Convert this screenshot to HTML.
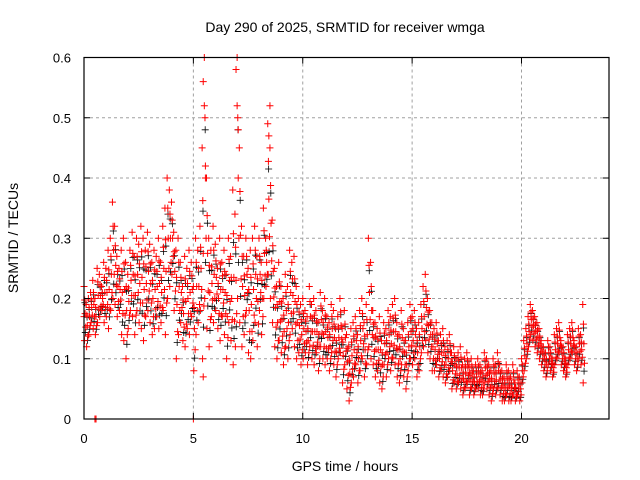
<!DOCTYPE html>
<html><head><meta charset="utf-8"><style>
body{margin:0;background:#fff}
svg{display:block;font-family:"Liberation Sans",Arial,sans-serif}
</style></head><body>
<svg id="chart" width="640" height="480" xmlns="http://www.w3.org/2000/svg">
<text x="345" y="32" font-size="14" text-anchor="middle">Day 290 of 2025, SRMTID for receiver wmga</text>
<text x="0" y="0" font-size="14" text-anchor="middle" transform="translate(18,238) rotate(-90)">SRMTID / TECUs</text>
<text x="345" y="471" font-size="14" text-anchor="middle">GPS time / hours</text>
<g id="grid"></g>
<g id="marks"></g>
<rect x="84" y="57.5" width="525" height="361.5" fill="none" stroke="#000" stroke-width="1.2"/>
<g id="ticks"></g>
</svg>
<script>
const xTicks=[0,5,10,15,20];
const yTicks=[0,0.1,0.2,0.3,0.4,0.5,0.6];
const yTickLabels=["0","0.1","0.2","0.3","0.4","0.5","0.6"];
const startHour=0.0, stepHour=0.1;
const hiValues=[.22,.19,.20,.21,.23,.20,.25,.24,.22,.26,
.25,.28,.30,.36,.32,.27,.25,.28,.30,.26,
.24,.28,.31,.27,.30,.29,.32,.30,.28,.31,
.29,.26,.28,.27,.30,.26,.32,.35,.40,.38,
.36,.31,.28,.30,.26,.22,.27,.25,.28,.26,
.22,.30,.28,.32,.45,.60,.40,.30,.28,.32,
.29,.25,.30,.26,.28,.24,.30,.27,.38,.34,
.60,.45,.32,.27,.30,.25,.28,.30,.32,.27,
.30,.26,.35,.30,.49,.45,.33,.25,.22,.26,
.22,.20,.24,.22,.28,.26,.27,.22,.20,.19,
.20,.18,.17,.22,.19,.20,.18,.16,.21,.18,
.20,.17,.16,.19,.18,.15,.17,.20,.15,.18,
.14,.12,.15,.16,.17,.14,.18,.20,.16,.19,
.30,.26,.18,.16,.15,.17,.13,.16,.15,.18,
.17,.19,.20,.16,.14,.18,.15,.13,.16,.19,
.17,.18,.15,.16,.19,.22,.24,.20,.18,.16,
.15,.16,.13,.14,.15,.12,.13,.14,.11,.12,
.10,.11,.12,.09,.10,.11,.09,.10,.08,.09,
.10,.09,.08,.11,.10,.09,.08,.10,.09,.11,
.09,.08,.07,.09,.08,.07,.09,.06,.08,.07,
.10,.13,.15,.17,.19,.18,.17,.16,.15,.13,
.12,.11,.13,.12,.10,.14,.15,.16,.13,.12,
.10,.14,.15,.16,.13,.12,.15,.14,.19];
const loValues=[.13,.12,.14,.16,.15,.14,.16,.17,.18,.16,
.17,.15,.18,.20,.19,.17,.18,.14,.13,.10,
.15,.18,.17,.14,.18,.16,.15,.13,.17,.18,
.16,.14,.15,.17,.15,.16,.18,.14,.20,.22,
.24,.18,.10,.14,.16,.13,.12,.15,.14,.17,
.08,.14,.16,.18,.10,.20,.15,.12,.17,.16,
.18,.15,.13,.17,.14,.10,.16,.13,.09,.12,
.20,.16,.12,.14,.18,.11,.10,.13,.16,.12,
.18,.14,.20,.22,.24,.20,.16,.12,.10,.13,
.11,.09,.12,.10,.14,.15,.12,.10,.11,.09,
.10,.11,.09,.12,.10,.09,.11,.08,.12,.10,
.09,.10,.08,.11,.09,.07,.10,.11,.06,.09,
.05,.03,.06,.07,.09,.06,.08,.10,.07,.09,
.12,.10,.09,.07,.08,.06,.05,.09,.07,.10,
.08,.10,.09,.07,.06,.09,.07,.05,.08,.10,
.09,.10,.07,.08,.11,.12,.13,.11,.10,.08,
.08,.09,.07,.08,.07,.06,.07,.08,.05,.06,
.05,.06,.05,.04,.05,.06,.04,.05,.04,.05,
.05,.04,.04,.06,.05,.04,.03,.05,.04,.05,
.04,.03,.03,.04,.03,.03,.04,.03,.04,.03,
.06,.08,.10,.12,.14,.13,.12,.11,.10,.09,
.08,.07,.09,.08,.07,.09,.10,.11,.09,.08,
.07,.09,.10,.11,.09,.08,.10,.09,.06];
const extraHours=[0.0,0.5,0.55,5.0,5.45,5.5,5.55,6.95,7.0,7.05,8.45,8.5,5.45];
const extraValues=[0.17,0.0,0.0,0.0,0.56,0.52,0.42,0.58,0.52,0.48,0.47,0.52,0.07];
const X=h=>84+h*525/24;
const Y=v=>419-v*361.5/0.6;
const NS="http://www.w3.org/2000/svg";
const grid=document.getElementById('grid'),ticks=document.getElementById('ticks'),marks=document.getElementById('marks');
function mk(tag,at,parent){const e=document.createElementNS(NS,tag);for(const k in at)e.setAttribute(k,at[k]);parent.appendChild(e);return e;}
xTicks.forEach(t=>{
  if(t>0){const g=mk('line',{x1:X(t),x2:X(t),y1:57.5,y2:419,stroke:'#a0a0a0','stroke-dasharray':'3,3'},grid);
  
  }
  const a=mk('line',{x1:X(t),x2:X(t),y1:419,y2:413,stroke:'#000'},ticks);
  
  
  const b=mk('line',{x1:X(t),x2:X(t),y1:57.5,y2:63.5,stroke:'#000'},ticks);
  
  
  const l=mk('text',{x:X(t),y:443,'font-size':13,'text-anchor':'middle'},ticks);l.textContent=String(t);
  
  
});
yTicks.forEach((v,i)=>{
  if(v>0&&v<0.6){const g=mk('line',{x1:84,x2:609,y1:Y(v),y2:Y(v),stroke:'#a0a0a0','stroke-dasharray':'3,3'},grid);
  
  }
  const a=mk('line',{x1:84,x2:90,y1:Y(v),y2:Y(v),stroke:'#000'},ticks);
  
  
  const b=mk('line',{x1:603,x2:609,y1:Y(v),y2:Y(v),stroke:'#000'},ticks);
  
  
  const l=mk('text',{x:71,y:Y(v)+5,'font-size':13,'text-anchor':'end'},ticks);l.textContent=yTickLabels[i];
  
  
});
let d={red:'',black:''};
function plus(col,h,v){const x=X(h),y=Y(v);d[col]+=`M${x-3.5},${y}h7M${x},${y-3.5}v7`;}
hiValues.forEach((hv,i)=>{
  const h=startHour+i*stepHour, lv=loValues[i], m=(hv+lv)/2;
  plus('black',h+0.04,m+(hv-m)*0.4);
  plus('black',h+0.06,lv+(m-lv)*0.3);
  plus('red',h,hv);
  plus('red',h+0.03,hv-(hv-m)*0.5);
  plus('red',h+0.05,m);
  plus('red',h+0.08,m-(m-lv)*0.5);
  plus('red',h+0.02,lv);
});
extraHours.forEach((h,i)=>plus('red',h,extraValues[i]));
const pb=mk('path',{d:d.black,stroke:'#000','stroke-width':0.8,fill:'none'},marks);


const pr=mk('path',{d:d.red,stroke:'#f00','stroke-width':1,fill:'none'},marks);


</script>
</body></html>
